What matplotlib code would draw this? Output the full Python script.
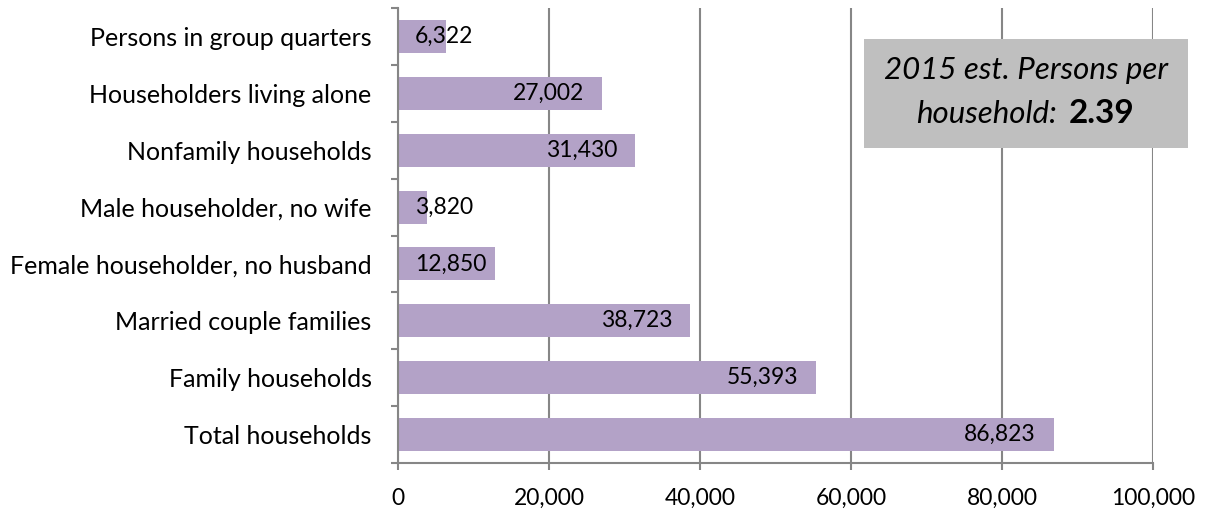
import matplotlib
matplotlib.use("Agg")
import matplotlib.pyplot as plt
from matplotlib.patches import Rectangle
from matplotlib.ticker import FuncFormatter, FixedLocator

categories = [
    "Total households",
    "Family households",
    "Married couple families",
    "Female householder, no husband",
    "Male householder, no wife",
    "Nonfamily households",
    "Householders living alone",
    "Persons in group quarters",
]
values = [86823, 55393, 38723, 12850, 3820, 31430, 27002, 6322]
x_ticks = [0, 20000, 40000, 60000, 80000, 100000]
box_line1 = "2015 est. Persons per"
box_line2 = "household:"
persons_per_household = 2.39

plt.rcParams["font.family"] = ["Lato", "DejaVu Sans"]
FS_CAT = 18
FS_NUM = 16.5
FS_BOX = 22.5
BAR_COLOR = "#B3A2C7"
GRID_COLOR = "#868686"

fig = plt.figure(figsize=(12.05, 5.12), dpi=100)
ax = fig.add_axes([398 / 1205, 1 - 463 / 512, 755 / 1205, 455 / 512])

ypos = list(range(len(categories)))
ax.barh(ypos, values, height=0.58, color=BAR_COLOR, zorder=2)

ax.set_xlim(x_ticks[0], x_ticks[-1])
ax.set_ylim(-0.5, len(categories) - 0.5)
ax.set_xticks(x_ticks)
ax.xaxis.set_major_formatter(FuncFormatter(lambda v, p: f"{int(v):,}"))
ax.grid(axis="x", color=GRID_COLOR, linewidth=1.5, zorder=1)
ax.set_axisbelow(True)

ax.set_yticks(ypos)
ax.set_yticklabels(categories, fontsize=FS_CAT)
ax.yaxis.set_minor_locator(FixedLocator([i - 0.5 for i in range(len(categories) + 1)]))
ax.tick_params(axis="y", which="major", length=0, pad=19)
ax.tick_params(axis="y", which="minor", length=5, width=1.5, color=GRID_COLOR)
ax.tick_params(axis="x", which="major", length=5, width=1.5, color=GRID_COLOR,
               labelsize=FS_NUM, pad=13)

for side in ("top", "right"):
    ax.spines[side].set_visible(False)
for side in ("left", "bottom"):
    ax.spines[side].set_color(GRID_COLOR)
    ax.spines[side].set_linewidth(1.5)

# Value labels: inside the bar end, or starting at the base for short bars
for y, v in zip(ypos, values):
    label = f"{v:,}"
    if v < 15000:
        ax.annotate(label, xy=(0, y), xytext=(12, 0), textcoords="offset points",
                    ha="left", va="center", fontsize=FS_NUM, zorder=3)
    else:
        ax.annotate(label, xy=(v, y), xytext=(-13, 0), textcoords="offset points",
                    ha="right", va="center", fontsize=FS_NUM, zorder=3)

# Annotation box with household size
fig.patches.append(Rectangle((864 / 1205, 1 - 148 / 512), 324 / 1205, 109 / 512,
                             transform=fig.transFigure, facecolor="#BFBFBF",
                             edgecolor="none", zorder=5))
fig.text(1026 / 1205, 1 - 79 / 512, box_line1, ha="center", va="baseline",
         fontsize=FS_BOX, style="italic", zorder=6)
fig.text(1057 / 1205, 1 - 123 / 512, box_line2, ha="right", va="baseline",
         fontsize=FS_BOX, style="italic", zorder=6)
fig.text(1069 / 1205, 1 - 123 / 512, f"{persons_per_household:.2f}", ha="left",
         va="baseline", fontsize=24, weight="bold", zorder=6)

fig.savefig("out.png", dpi=100)
